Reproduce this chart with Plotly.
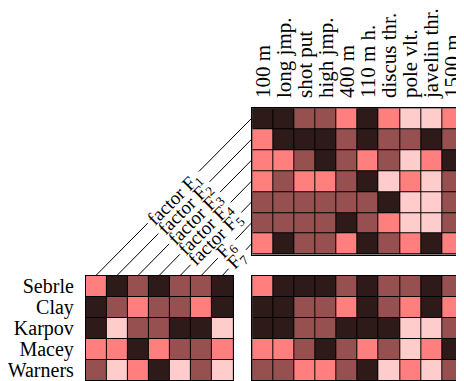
import math
import plotly.graph_objects as go

# ---------------- data ----------------
events = ["100 m", "long jmp.", "shot put", "high jmp.", "400 m", "110 m h.",
          "discus thr.", "pole vlt.", "javelin thr.", "1500 m"]
athletes = ["Sebrle", "Clay", "Karpov", "Macey", "Warners"]
factors = ["1", "2", "3", "4", "5", "6", "7"]
factor_label_text = ["factor F<sub>1</sub>", "factor F<sub>2</sub>", "factor F<sub>3</sub>",
                     "factor F<sub>4</sub>", "factor F<sub>5</sub>", "F<sub>6</sub>", "F<sub>7</sub>"]

# levels: 0 = light, 1 = pink, 2 = mid, 3 = dark
factor_event = [
    [3, 3, 2, 2, 1, 3, 1, 0, 0, 1],
    [1, 3, 3, 3, 2, 3, 2, 2, 3, 2],
    [1, 1, 2, 3, 2, 1, 2, 0, 1, 3],
    [1, 2, 1, 1, 2, 3, 0, 1, 0, 2],
    [2, 2, 2, 2, 2, 2, 3, 0, 0, 2],
    [2, 2, 2, 2, 3, 2, 1, 0, 0, 2],
    [1, 3, 2, 2, 1, 3, 2, 1, 3, 1],
]
athlete_factor = [
    [1, 3, 2, 3, 2, 2, 3],
    [3, 2, 1, 2, 2, 1, 3],
    [3, 0, 2, 2, 3, 3, 0],
    [1, 1, 3, 1, 2, 2, 1],
    [2, 0, 1, 3, 0, 2, 0],
]
athlete_event = [
    [1, 3, 3, 3, 2, 3, 2, 2, 3, 2],
    [3, 3, 2, 2, 1, 3, 2, 1, 3, 1],
    [3, 3, 2, 2, 3, 3, 3, 0, 0, 2],
    [1, 1, 2, 3, 2, 1, 2, 0, 1, 3],
    [2, 2, 1, 1, 2, 3, 0, 1, 0, 2],
]

level_colors = ["#ffcccc", "#ff7f7f", "#975050", "#2f1a1a"]

# ---------------- geometry (window pixels) ----------------
WIN_W, WIN_H = 464, 381
OFF = 8                      # page body margin
W, H = WIN_W - OFF, WIN_H - OFF
CW, CH = 21.4, 21.3
LEFT_X0 = 83
RIGHT_X0 = 252
TOP_Y0 = 104
BOT_Y0 = 275

def px(x):
    return (x - OFF) / W

def py(y):
    return 1 - (y - OFF) / H

cs = []
n = len(level_colors)
for k, c in enumerate(level_colors):
    cs.append([k / n, c])
    cs.append([(k + 1) / n, c])

def hm(z, xa, ya):
    return go.Heatmap(z=z, x=list(range(len(z[0]))), y=list(range(len(z))),
                      colorscale=cs, zmin=-0.5, zmax=len(level_colors) - 0.5,
                      showscale=False, xgap=1, ygap=1, hoverinfo="skip",
                      xaxis=xa, yaxis=ya)

fig = go.Figure()
fig.add_trace(hm(factor_event, "x", "y"))
fig.add_trace(hm(athlete_factor, "x2", "y2"))
fig.add_trace(hm(athlete_event, "x3", "y3"))

font = dict(family="Liberation Serif", size=21, color="black")
row_font = dict(family="Liberation Serif", size=20, color="black")
lab_font = dict(family="Liberation Serif", size=19, color="black")
ax_common = dict(showgrid=False, zeroline=False, showline=True, linecolor="black",
                 linewidth=1, mirror=True, ticks="", fixedrange=True)

n_ev = len(events)
n_f = len(factors)
n_a = len(athletes)

right_span = (WIN_W - RIGHT_X0) / CW
top_dom = [py(TOP_Y0 + n_f * CH), py(TOP_Y0)]
bot_dom = [0, py(BOT_Y0)]
bot_span = (WIN_H - BOT_Y0) / CH

fig.update_layout(
    width=W, height=H, margin=dict(l=0, r=0, t=0, b=0),
    paper_bgcolor="white", plot_bgcolor="black", showlegend=False,
    font=font,
    xaxis=dict(**ax_common, domain=[px(RIGHT_X0), 1], range=[-0.5, -0.5 + right_span],
               side="top", tickvals=list(range(n_ev)), ticktext=events, tickangle=-90,
               tickfont=font, ticklabelstandoff=5, ticklabeloverflow="allow", anchor="y"),
    yaxis=dict(**ax_common, domain=top_dom, range=[n_f - 0.5, -0.5], showticklabels=False,
               anchor="x"),
    xaxis2=dict(**ax_common, domain=[px(LEFT_X0), px(LEFT_X0 + n_f * CW)],
                range=[-0.5, n_f - 0.5], showticklabels=False, anchor="y2"),
    yaxis2=dict(**ax_common, domain=bot_dom, range=[-0.5 + bot_span, -0.5],
                tickvals=list(range(n_a)), ticktext=athletes, tickfont=row_font,
                ticklabelstandoff=7, ticklabeloverflow="allow", anchor="x2"),
    xaxis3=dict(**ax_common, domain=[px(RIGHT_X0), 1], range=[-0.5, -0.5 + right_span],
                showticklabels=False, anchor="y3"),
    yaxis3=dict(**ax_common, domain=bot_dom, range=[-0.5 + bot_span, -0.5],
                showticklabels=False, anchor="x3"),
)

# connecting lines (broken where the label sits) and factor labels
shapes = []
annotations = []
for i, lab in enumerate(factor_label_text):
    y_row = TOP_Y0 + (i + 0.5) * CH
    x_col = LEFT_X0 + (i + 0.5) * CW
    x0, y0 = RIGHT_X0 - 1, y_row
    x1, y1 = x_col, BOT_Y0 - 1
    L = math.hypot(x1 - x0, y1 - y0)
    ux, uy = (x1 - x0) / L, (y1 - y0) / L
    cx = 174 + 10.5 * i
    cy = 197 + 10.2 * i
    s = (cx - x0) * ux + (cy - y0) * uy
    half = 37 if lab.startswith("factor") else 13
    sa, sb = max(s - half, 0), min(s + half, L)
    if sa > 0:
        shapes.append(dict(type="line", xref="paper", yref="paper",
                           x0=px(x0), y0=py(y0), x1=px(x0 + ux * sa), y1=py(y0 + uy * sa),
                           line=dict(color="black", width=1), layer="above"))
    if sb < L:
        shapes.append(dict(type="line", xref="paper", yref="paper",
                           x0=px(x0 + ux * sb), y0=py(y0 + uy * sb), x1=px(x1), y1=py(y1),
                           line=dict(color="black", width=1), layer="above"))
    annotations.append(dict(xref="paper", yref="paper", x=px(cx), y=py(cy),
                            text=lab, showarrow=False, textangle=-45,
                            font=lab_font, borderpad=0,
                            xanchor="center", yanchor="middle"))
fig.update_layout(shapes=shapes, annotations=annotations)

fig.write_html("out.html")
